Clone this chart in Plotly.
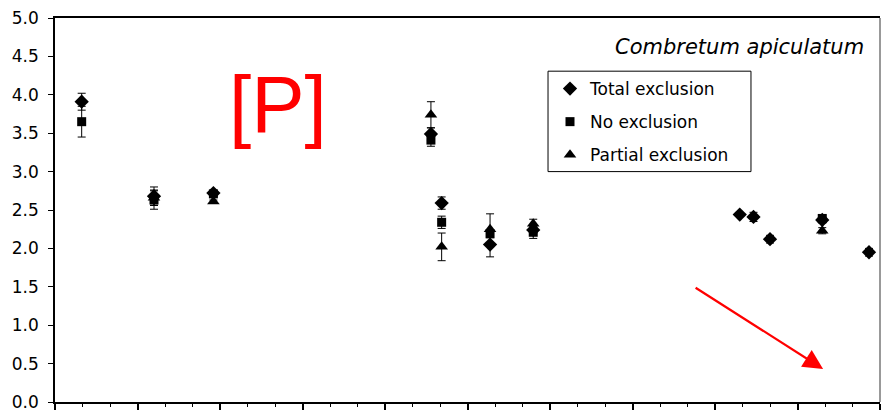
import plotly.graph_objects as go

# ---- data ----
total_x = [0.97, 3.6, 5.76, 13.67, 14.06, 15.82, 17.39, 24.9, 25.4, 26.0, 27.9, 29.6]
total_y = [3.91, 2.68, 2.72, 3.49, 2.59, 2.05, 2.24, 2.44, 2.41, 2.12, 2.37, 1.95]
total_e = [0.11, 0.12, 0.03, 0.08, 0.08, 0.16, 0.05, 0.02, 0.06, 0.05, 0.04, 0.05]

none_x = [0.97, 3.6, 5.76, 13.67, 14.06, 15.82, 17.39, 27.9]
none_y = [3.65, 2.63, 2.71, 3.41, 2.34, 2.19, 2.21, 2.39]
none_e = [0.20, 0.12, 0.03, 0.08, 0.08, 0.05, 0.08, 0.04]

part_x = [3.6, 5.76, 13.67, 14.06, 15.82, 17.39, 27.9]
part_y = [2.66, 2.61, 3.74, 2.02, 2.25, 2.32, 2.23]
part_e = [0.10, 0.02, 0.17, 0.18, 0.20, 0.06, 0.04]

series_names = ["Total exclusion", "No exclusion", "Partial exclusion"]
y_ticks = [0, 0.5, 1.0, 1.5, 2.0, 2.5, 3.0, 3.5, 4.0, 4.5, 5.0]

FONT = "DejaVu Sans"

fig = go.Figure()

specs = [
    (total_x, total_y, total_e, "diamond", 11),
    (none_x, none_y, none_e, "square", 9),
    (part_x, part_y, part_e, "triangle-up", 11),
]
for i, (xs, ys, es, sym, sz) in enumerate(specs):
    fig.add_trace(go.Scatter(
        x=xs, y=ys, mode="markers", name=series_names[i],
        legendgroup=f"g{i}",
        marker=dict(symbol=sym, size=sz, color="black", line=dict(width=0)),
        error_y=dict(type="data", array=es, visible=True, color="black",
                     thickness=1, width=4),
    ))

fig.update_layout(
    width=888, height=420,
    margin=dict(l=55, r=8, t=14, b=11),
    plot_bgcolor="white", paper_bgcolor="white",
    font=dict(family=FONT, size=17, color="black"),
    showlegend=True,
    legend=dict(
        x=0.6, y=0.862, xanchor="left", yanchor="top",
        bgcolor="rgba(0,0,0,0)", borderwidth=0,
        font=dict(family=FONT, size=17, color="black"),
        tracegroupgap=8, traceorder="grouped",
        itemsizing="trace",
    ),
    xaxis=dict(
        range=[0, 30], showgrid=False, zeroline=False,
        showline=True, linecolor="black", linewidth=2, mirror=True,
        ticks="outside", ticklen=6, tickwidth=1.5, tickcolor="black",
        tick0=0, dtick=3, showticklabels=False,
        minor=dict(ticks="outside", ticklen=3, tickwidth=1, tickcolor="black", dtick=1),
    ),
    yaxis=dict(
        range=[0, 5], showgrid=False, zeroline=False,
        showline=True, linecolor="black", linewidth=1.5,
        ticks="outside", ticklen=5, tickwidth=1, tickcolor="black",
        tickvals=y_ticks, tickformat=".1f",
        tickfont=dict(family=FONT, size=17, color="black"),
        ticklabelstandoff=6,
    ),
)

# right frame border (grey)
fig.add_shape(type="line", xref="paper", yref="paper", x0=1, x1=1, y0=0, y1=1,
              line=dict(color="#777777", width=1.5))
# legend frame
fig.add_shape(type="rect", xref="paper", yref="paper",
              x0=0.5976, x1=0.8436, y0=0.6, y1=0.8615,
              line=dict(color="black", width=1), fillcolor="rgba(0,0,0,0)")

# species title
fig.add_annotation(text="<i>Combretum apiculatum</i>", xref="paper", yref="paper",
                   x=0.983, y=0.9235, xanchor="right", yanchor="middle",
                   showarrow=False, font=dict(family=FONT, size=21, color="black"))
# red [P] label
fig.add_annotation(text="[P]", xref="paper", yref="paper",
                   x=0.2697, y=0.776, xanchor="center", yanchor="middle",
                   showarrow=False, font=dict(family="Liberation Sans", size=80, color="red"))
# red arrow
fig.add_annotation(x=27.93, y=0.43, ax=23.24, ay=1.50, xref="x", yref="y",
                   axref="x", ayref="y", text="", showarrow=True,
                   arrowhead=2, arrowsize=1.8, arrowwidth=2.2, arrowcolor="red")

fig.write_html("out.html")
